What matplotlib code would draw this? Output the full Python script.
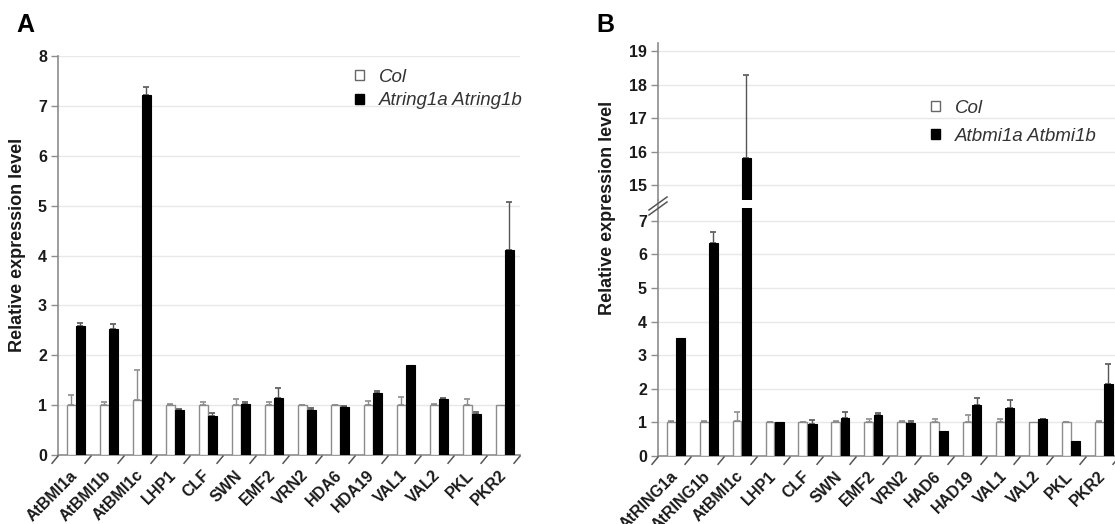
import numpy as np
import matplotlib
matplotlib.use('Agg')
import matplotlib.pyplot as plt
from matplotlib.lines import Line2D
from matplotlib.patches import Patch

plt.rcParams['font.family'] = ['Liberation Sans', 'DejaVu Sans']

# panel A data (Col vs Atring1a Atring1b)
genes_a = ['AtBMI1a', 'AtBMI1b', 'AtBMI1c', 'LHP1', 'CLF', 'SWN', 'EMF2', 'VRN2',
           'HDA6', 'HDA19', 'VAL1', 'VAL2', 'PKL', 'PKR2']
col_a = [1.01, 1.00, 1.11, 1.00, 1.00, 1.00, 1.00, 1.00, 1.00, 1.00, 1.00, 1.00, 1.00, 1.00]
col_a_err = [0.20, 0.06, 0.60, 0.03, 0.07, 0.12, 0.06, 0.01, 0.01, 0.08, 0.16, 0.03, 0.13, 0.0]
mut_a = [2.59, 2.53, 7.22, 0.90, 0.78, 1.03, 1.14, 0.91, 0.96, 1.25, 1.80, 1.12, 0.83, 4.12]
mut_a_err = [0.06, 0.09, 0.15, 0.02, 0.06, 0.03, 0.20, 0.03, 0.02, 0.04, 0.0, 0.03, 0.03, 0.96]

# panel B data (Col vs Atbmi1a Atbmi1b)
genes_b = ['AtRING1a', 'AtRING1b', 'AtBMI1c', 'LHP1', 'CLF', 'SWN', 'EMF2', 'VRN2',
           'HAD6', 'HAD19', 'VAL1', 'VAL2', 'PKL', 'PKR2']
col_b = [1.00, 1.00, 1.04, 1.00, 1.00, 1.00, 1.00, 1.00, 1.00, 1.00, 1.00, 1.00, 1.00, 1.00]
col_b_err = [0.05, 0.05, 0.27, 0.01, 0.02, 0.04, 0.09, 0.04, 0.10, 0.22, 0.10, 0.0, 0.02, 0.05]
mut_b = [3.50, 6.33, 15.80, 1.02, 0.94, 1.14, 1.23, 0.99, 0.75, 1.53, 1.42, 1.09, 0.44, 2.14]
mut_b_err = [0.0, 0.34, 2.48, 0.0, 0.12, 0.16, 0.06, 0.05, 0.0, 0.21, 0.24, 0.02, 0.0, 0.60]

legend_a = ['Col', 'Atring1a Atring1b']
legend_b = ['Col', 'Atbmi1a Atbmi1b']

W, H = 1115, 524
GRAY = '#8c8c8c'


def box(x0, y0, x1, y1):
    return [x0 / W, 1 - y1 / H, (x1 - x0) / W, (y1 - y0) / H]


def style_axes(ax):
    for s in ['top', 'right']:
        ax.spines[s].set_visible(False)
    for s in ['left', 'bottom']:
        ax.spines[s].set_color(GRAY)
        ax.spines[s].set_linewidth(1.2)
    ax.yaxis.grid(True, color='#e8e8e8', lw=1)
    ax.set_axisbelow(True)
    ax.tick_params(axis='y', length=5, width=1, color=GRAY, pad=3, labelsize=11.5,
                   labelcolor='#1a1a1a')
    for t in ax.get_yticklabels():
        t.set_fontweight('bold')


def draw_bars(ax, col, col_err, mut, mut_err):
    x = np.arange(len(col))
    col = np.array(col)
    mut = np.array(mut)
    col_err = np.array(col_err)
    mut_err = np.array(mut_err)
    ax.bar(x + 0.40, col, width=0.27, color='white', edgecolor=GRAY, linewidth=1.0, zorder=3)
    ax.bar(x + 0.68, mut, width=0.27, color='black', edgecolor='black', linewidth=0.8, zorder=3)
    m = col_err > 0
    ax.errorbar(x[m] + 0.40, col[m], yerr=[np.zeros(m.sum()), col_err[m]], fmt='none',
                ecolor=GRAY, elinewidth=1, capsize=2.5, capthick=1.2, zorder=2)
    m = mut_err > 0
    ax.errorbar(x[m] + 0.68, mut[m], yerr=[np.zeros(m.sum()), mut_err[m]], fmt='none',
                ecolor='#555555', elinewidth=1, capsize=2.5, capthick=1.2, zorder=2)
    ax.set_xlim(0, len(col))


def x_labels(ax, names):
    n = len(names)
    ax.set_xticks(np.arange(n) + 0.36)
    ax.set_xticklabels(names, rotation=45, ha='right', va='top', rotation_mode='anchor',
                       fontsize=11.5, fontweight='bold', color='#1a1a1a')
    ax.tick_params(axis='x', length=0, pad=9)
    # slanted tick marks at category boundaries
    ax.plot(np.arange(n + 1), np.zeros(n + 1), ls='none', marker=[(0, 0), (-1, -1.2)],
            ms=12, mec='#555555', mew=1.1, clip_on=False, zorder=5)


def add_legend(ax, labels, x, y, spacing):
    handles = [Patch(facecolor='white', edgecolor='#666666', lw=1),
               Patch(facecolor='black', edgecolor='black')]
    ax.legend(handles, labels, loc='upper left', bbox_to_anchor=(x, y), frameon=False,
              prop={'style': 'italic', 'size': 13.5}, labelcolor='#333333',
              handlelength=0.45, handleheight=0.45, handletextpad=0.8,
              labelspacing=spacing, borderpad=0, borderaxespad=0)


fig = plt.figure(figsize=(W / 100, H / 100), dpi=100)

# ---- panel A ----
ax_a = fig.add_axes(box(58, 56, 520, 455))
draw_bars(ax_a, col_a, col_a_err, mut_a, mut_a_err)
ax_a.set_ylim(0, 8)
ax_a.set_yticks(range(0, 9))
style_axes(ax_a)
x_labels(ax_a, genes_a)
add_legend(ax_a, legend_a, 0.643, 0.968, 0.35)

# ---- panel B (broken y axis) ----
ax_lo = fig.add_axes(box(658, 208, 1119, 456))
ax_up = fig.add_axes(box(658, 43, 1119, 200))
for ax in (ax_lo, ax_up):
    draw_bars(ax, col_b, col_b_err, mut_b, mut_b_err)
ax_lo.set_ylim(0, 7.38)
ax_lo.set_yticks(range(0, 8))
ax_up.set_ylim(14.55, 19.25)
ax_up.set_yticks(range(15, 20))
style_axes(ax_lo)
style_axes(ax_up)
ax_up.spines['bottom'].set_visible(False)
ax_up.set_xticks([])
x_labels(ax_lo, genes_b)
add_legend(ax_up, legend_b, 0.593, 0.64, 0.6)

# axis line through the gap and the break marks
fig.add_artist(Line2D([658 / W, 658 / W], [1 - 208 / H, 1 - 200 / H], color=GRAY, lw=1.2))
for dy in (0, -5):
    fig.add_artist(Line2D([649 / W, 667 / W], [1 - (215 + dy) / H, 1 - (202 + dy) / H],
                          color='#555555', lw=1.1))

# labels
fig.text(18 / W, 1 - 245 / H, 'Relative expression level', rotation=90, ha='center',
         va='center', fontsize=13, fontweight='bold', color='#1a1a1a')
fig.text(607 / W, 1 - 208 / H, 'Relative expression level', rotation=90, ha='center',
         va='center', fontsize=13, fontweight='bold', color='#1a1a1a')
fig.text(16 / W, 1 - 25 / H, 'A', fontsize=18, fontweight='bold', va='center')
fig.text(596 / W, 1 - 25 / H, 'B', fontsize=18, fontweight='bold', va='center')

fig.savefig('out.png', dpi=100)
